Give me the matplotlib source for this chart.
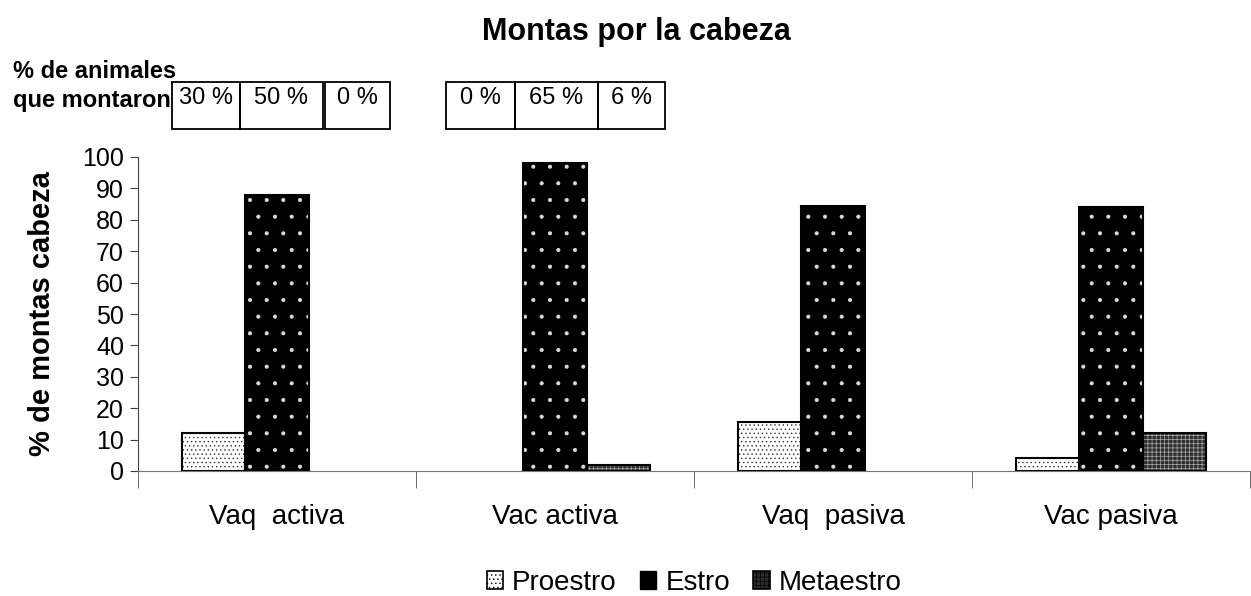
import numpy as np
import matplotlib
matplotlib.use("Agg")
import matplotlib.pyplot as plt
from matplotlib.patches import Rectangle, Patch

plt.rcParams['font.family'] = ['Liberation Sans', 'DejaVu Sans']
plt.rcParams['hatch.linewidth'] = 0.5

# ----------------------------
# Data
# ----------------------------
categories = ['Vaq  activa', 'Vac activa', 'Vaq  pasiva', 'Vac pasiva']
series = ['Proestro', 'Estro', 'Metaestro']
proestro = [12, 0, 15.5, 4]
estro = [88, 98, 84.5, 84]
metaestro = [0, 2, 0, 12]
box_labels_1 = ['30 %', '50 %', '0 %']
box_labels_2 = ['0 %', '65 %', '6 %']

W, H = 1251, 596
fig = plt.figure(figsize=(W / 100, H / 100), dpi=100)

def fx(px):
    return px / W

def fy(py):
    return 1 - py / H

ax = fig.add_axes([fx(138), fy(471), fx(1250) - fx(138), (471 - 157) / H])

x = np.arange(len(categories))
bw = 0.227

# styles per series: face, hatch colour, hatch
styles = [('white', '#333333', '....'),
          ('black', '#dddddd', '.'),
          ('#2e2e2e', '#aaaaaa', '++++')]

for i, (vals, (fc, hc, hatch)) in enumerate(zip([proestro, estro, metaestro], styles)):
    pos = x + (i - 1) * bw
    lw = [1.5 if v > 0 else 0 for v in vals]
    ax.bar(pos, vals, bw, color=fc, edgecolor=hc, hatch=hatch, linewidth=0, zorder=2)
    ax.bar(pos, vals, bw, fill=False, edgecolor='black', linewidth=lw, zorder=3)

ax.set_xlim(-0.5, len(categories) - 0.5)
ax.set_ylim(0, 100)
ax.set_yticks(range(0, 101, 10))
ax.tick_params(axis='y', labelsize=18, direction='out', length=6, color='#444444', pad=4)
ax.set_xticks(x)
ax.set_xticklabels(categories, fontsize=20)
ax.tick_params(axis='x', length=0, pad=24)
# category separator ticks
ax.set_xticks(np.arange(len(categories) + 1) - 0.5, minor=True)
ax.tick_params(axis='x', which='minor', length=12, direction='out', color='#555555')
for s in ['top', 'right']:
    ax.spines[s].set_visible(False)
ax.spines['left'].set_color('#444444')
ax.spines['bottom'].set_color('#777777')
ax.set_ylabel('% de montas cabeza', fontsize=21, fontweight='bold')
ax.yaxis.set_label_coords((56 - 138) / (1250 - 138), 0.5)

fig.text(fx(636), fy(32), 'Montas por la cabeza', fontsize=22, fontweight='bold',
         ha='center', va='center')

# ----------------------------
# Boxes: % de animales que montaron
# ----------------------------
fig.text(fx(13), fy(71), '% de animales', fontsize=17, fontweight='bold', va='center')
fig.text(fx(13), fy(100), 'que montaron', fontsize=17, fontweight='bold', va='center')

box_edges_1 = [172, 240, 323, 390]
box_edges_2 = [446, 515, 598, 665]
for edges, labels in [(box_edges_1, box_labels_1), (box_edges_2, box_labels_2)]:
    for j, lab in enumerate(labels):
        x0, x1 = edges[j], edges[j + 1]
        if edges is box_edges_1 and j == 2:
            x0 = 325
        fig.add_artist(Rectangle((fx(x0), fy(129)), fx(x1) - fx(x0), (129 - 82) / H,
                                 transform=fig.transFigure, fill=False,
                                 edgecolor='black', linewidth=1.3))
        fig.text(fx((x0 + x1) / 2), fy(98), lab, fontsize=17, ha='center', va='center')

# legend
handles = [Patch(facecolor=fc, edgecolor='black', hatch=hatch, linewidth=1.2)
           for fc, hc, hatch in styles]
handles[1] = Patch(facecolor='black', edgecolor='black')
fig.legend(handles, series, loc='center', bbox_to_anchor=(fx(694), fy(583)), ncol=3,
           frameon=False, fontsize=20, handlelength=0.6, handleheight=0.6,
           handletextpad=0.32, columnspacing=0.83, borderpad=0)

plt.savefig('out.png', dpi=100)
